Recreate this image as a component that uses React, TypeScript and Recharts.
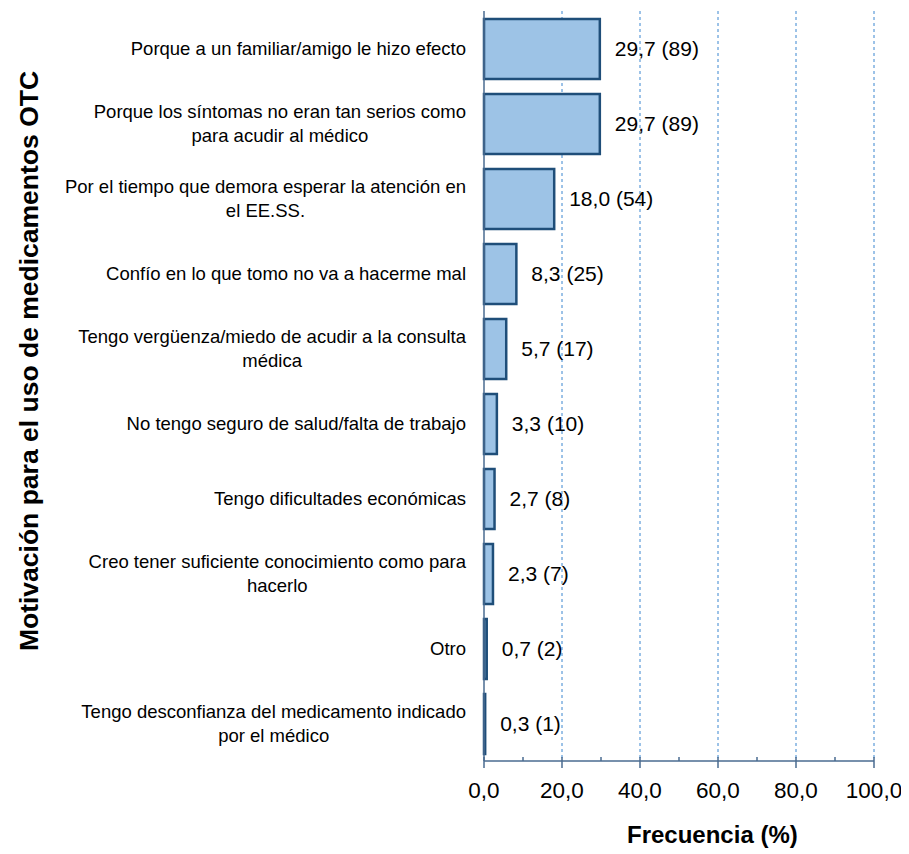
import React from "react";
import { BarChart, Bar, XAxis, YAxis, CartesianGrid, LabelList } from "recharts";

const categories = [
  "Porque a un familiar/amigo le hizo efecto",
  "Porque los síntomas no eran tan serios como\npara acudir al médico",
  "Por el tiempo que demora esperar la atención en\nel EE.SS.",
  "Confío en lo que tomo no va a hacerme mal",
  "Tengo vergüenza/miedo de acudir a la consulta\nmédica",
  "No tengo seguro de salud/falta de trabajo",
  "Tengo dificultades económicas",
  "Creo tener suficiente conocimiento como para\nhacerlo",
  "Otro",
  "Tengo desconfianza del medicamento indicado\npor el médico",
];
const percents = [29.7, 29.7, 18.0, 8.3, 5.7, 3.3, 2.7, 2.3, 0.7, 0.3];
const counts = [89, 89, 54, 25, 17, 10, 8, 7, 2, 1];

const xTicks = [0, 10, 20, 30, 40, 50, 60, 70, 80, 90, 100];
const gridValues = [20, 40, 60, 80, 100];

const FONT = '"Liberation Sans", Arial, Helvetica, sans-serif';
const AXIS_COLOR = "#4a6b91";

const fmt = (v: number) => v.toFixed(1).replace(".", ",");

const data = categories.map((name, i) => ({
  name,
  pct: percents[i],
  label: `${fmt(percents[i])} (${counts[i]})`,
}));

let ctx: CanvasRenderingContext2D | null = null;
function measure(text: string, size: number) {
  if (!ctx) ctx = document.createElement("canvas").getContext("2d");
  if (!ctx) return text.length * size * 0.5;
  ctx.font = `${size}px ${FONT}`;
  return ctx.measureText(text).width;
}

// category label: lines centred inside a block that is right-aligned to the axis
function CategoryTick(props: any) {
  const { x, y, payload } = props;
  const lines = String(payload.value).split("\n");
  const size = 18.5;
  const lh = 24;
  const maxW = Math.max(...lines.map((l) => measure(l, size)));
  const cx = x - 18 - maxW / 2;
  return (
    <g>
      {lines.map((l, i) => (
        <text
          key={i}
          x={cx}
          y={y + (i - (lines.length - 1) / 2) * lh}
          textAnchor="middle"
          dominantBaseline="central"
          fontSize={size}
          fontFamily={FONT}
          fill="#000"
        >
          {l}
        </text>
      ))}
    </g>
  );
}

function ValueTick(props: any) {
  const { x, y, payload } = props;
  const major = payload.value % 20 === 0;
  return (
    <g>
      <line
        x1={x}
        x2={x}
        y1={y - 4}
        y2={major ? y + 7 : y}
        stroke={AXIS_COLOR}
        strokeWidth={1.5}
      />
      {major && (
        <text x={x} y={y + 37} textAnchor="middle" fontSize={22.5} fontFamily={FONT} fill="#000">
          {fmt(payload.value)}
        </text>
      )}
    </g>
  );
}

export default function App() {
  return (
    <div style={{ width: 901, height: 846 }}>
      <BarChart
        width={901}
        height={846}
        data={data}
        layout="vertical"
        margin={{ top: 3, right: 35, bottom: 0, left: 0 }}
        barSize={60}
      >
        <CartesianGrid
          horizontal={false}
          verticalValues={gridValues}
          stroke="#3b86d0"
          strokeDasharray="3 3"
          strokeWidth={1}
        />
        <XAxis
          type="number"
          domain={[0, 100]}
          ticks={xTicks}
          interval={0}
          height={93}
          tickSize={0}
          tickMargin={0}
          tickLine={false}
          axisLine={{ stroke: AXIS_COLOR, strokeWidth: 1.5 }}
          tick={<ValueTick />}
          label={{
            content: (p: any) => {
              const vb = p.viewBox || { x: 476, y: 753, width: 390, height: 93 };
              return (
                <text
                  x={vb.x + 143}
                  y={vb.y + 82}
                  textAnchor="start"
                  fontSize={24}
                  fontWeight="bold"
                  fontFamily={FONT}
                  fill="#000"
                >
                  Frecuencia (%)
                </text>
              );
            },
          }}
        />
        <YAxis
          type="category"
          dataKey="name"
          width={476}
          interval={0}
          tickSize={0}
          tickMargin={0}
          tickLine={false}
          axisLine={{ stroke: AXIS_COLOR, strokeWidth: 1.5 }}
          tick={<CategoryTick />}
          label={{
            content: (p: any) => {
              const vb = p.viewBox || { x: 0, y: 3, width: 476, height: 750 };
              const cx = vb.x + 21;
              const cy = vb.y + 350;
              return (
                <text
                  x={cx}
                  y={cy}
                  transform={`rotate(-90 ${cx} ${cy})`}
                  textAnchor="middle"
                  dominantBaseline="central"
                  fontSize={26.5}
                  fontWeight="bold"
                  fontFamily={FONT}
                  fill="#000"
                >
                  Motivación para el uso de medicamentos OTC
                </text>
              );
            },
          }}
        />
        <Bar
          dataKey="pct"
          fill="#9dc3e6"
          stroke="#1f4e79"
          strokeWidth={2.5}
          isAnimationActive={false}
        >
          <LabelList
            dataKey="label"
            position="right"
            offset={15}
            fontSize={21}
            fontFamily={FONT}
            fill="#000"
          />
        </Bar>
      </BarChart>
    </div>
  );
}
